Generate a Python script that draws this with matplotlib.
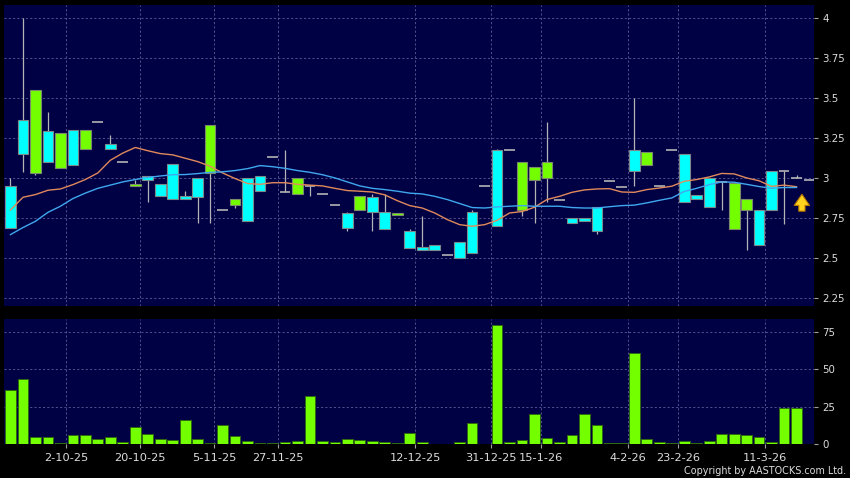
import numpy as np
import matplotlib.pyplot as plt

# daily candles
opens = [2.69, 3.15, 3.55, 3.10, 3.28, 3.08, 3.30, 3.35, 3.18, 3.10,
         2.96, 2.99, 2.89, 2.87, 2.87, 2.88, 3.33, 2.80, 2.87, 2.73,
         2.92, 3.13, 2.91, 3.00, 2.95, 2.90, 2.83, 2.69, 2.89, 2.79,
         2.68, 2.78, 2.56, 2.55, 2.55, 2.52, 2.50, 2.53, 2.95, 2.70,
         3.175, 3.10, 3.07, 3.10, 2.865, 2.72, 2.73, 2.67, 2.98, 2.945,
         3.045, 3.16, 2.95, 3.175, 2.85, 2.87, 2.82, 2.975, 2.97, 2.87,
         2.58, 2.80, 3.045, 3.00, 2.99]
highs = [3.00, 4.00, 3.55, 3.41, 3.28, 3.30, 3.30, 3.35, 3.27, 3.10,
         2.99, 3.01, 2.96, 3.09, 2.92, 3.00, 3.33, 2.80, 2.87, 3.00,
         3.01, 3.13, 3.175, 3.00, 2.95, 2.90, 2.83, 2.79, 2.89, 2.90,
         2.90, 2.78, 2.68, 2.76, 2.58, 2.52, 2.60, 2.80, 2.95, 3.18,
         3.175, 3.10, 3.07, 3.35, 2.865, 2.75, 2.75, 2.82, 2.98, 2.945,
         3.50, 3.16, 2.95, 3.175, 3.15, 2.895, 3.00, 2.975, 2.97, 2.87,
         2.80, 3.045, 3.045, 3.02, 2.99]
lows = [2.69, 3.04, 3.02, 3.10, 3.06, 3.08, 3.18, 3.35, 3.18, 3.10,
        2.95, 2.85, 2.89, 2.87, 2.87, 2.72, 2.72, 2.80, 2.81, 2.73,
        2.92, 3.13, 2.91, 2.90, 2.89, 2.90, 2.83, 2.67, 2.80, 2.67,
        2.68, 2.77, 2.56, 2.55, 2.55, 2.52, 2.50, 2.53, 2.95, 2.70,
        3.175, 2.76, 2.72, 2.85, 2.865, 2.72, 2.73, 2.65, 2.98, 2.945,
        2.95, 3.08, 2.95, 3.175, 2.85, 2.87, 2.82, 2.80, 2.68, 2.55,
        2.58, 2.80, 2.71, 3.00, 2.99]
closes = [2.95, 3.36, 3.03, 3.29, 3.06, 3.30, 3.18, 3.35, 3.21, 3.10,
          2.95, 3.01, 2.96, 3.09, 2.89, 3.00, 3.03, 2.80, 2.83, 3.00,
          3.01, 3.13, 2.91, 2.90, 2.95, 2.90, 2.83, 2.78, 2.80, 2.88,
          2.79, 2.77, 2.67, 2.57, 2.58, 2.52, 2.60, 2.79, 2.95, 3.175,
          3.175, 2.80, 2.99, 3.00, 2.865, 2.75, 2.75, 2.82, 2.98, 2.945,
          3.175, 3.08, 2.95, 3.175, 3.15, 2.895, 3.00, 2.975, 2.68, 2.80,
          2.80, 3.045, 3.045, 3.00, 2.99]
volumes = [35.9, 43.3, 4.5, 4.5, 0.4, 5.8, 6.1, 2.9, 4.3, 0.9,
           11.2, 6.3, 3.1, 2.5, 16.2, 2.9, 0.7, 12.6, 5.4, 1.8,
           0.2, 0.2, 0.9, 1.8, 31.9, 1.8, 1.1, 3.1, 2.5, 1.8,
           1.1, 0.2, 7.0, 0.9, 0, 0, 0.9, 13.9, 0, 79.9,
           1.3, 2.5, 19.8, 3.8, 0.9, 6.1, 20.2, 12.6, 0.2, 0.2,
           60.9, 2.9, 1.1, 0.2, 1.8, 0.2, 1.8, 6.5, 6.5, 5.6,
           4.3, 1.1, 23.8, 24.3, 0]
# moving averages as drawn (orange = short, blue = long)
ma_short = [2.80, 2.879, 2.896, 2.923, 2.931, 2.958, 2.99, 3.031, 3.11, 3.155,
            3.19, 3.17, 3.152, 3.144, 3.123, 3.102, 3.073, 3.031, 2.996, 2.965,
            2.96, 2.97, 2.97, 2.96, 2.955, 2.95, 2.935, 2.921, 2.917, 2.912,
            2.894, 2.858, 2.827, 2.812, 2.781, 2.74, 2.708, 2.698, 2.708, 2.735,
            2.781, 2.79, 2.817, 2.865, 2.885, 2.91, 2.925, 2.931, 2.933, 2.912,
            2.91, 2.927, 2.937, 2.948, 2.979, 2.99, 3.006, 3.028, 3.025, 3.0,
            2.982, 2.947, 2.955, 2.945]
ma_long = [2.646, 2.69, 2.729, 2.785, 2.823, 2.871, 2.905, 2.935, 2.955, 2.975,
           2.99, 3.003, 3.012, 3.02, 3.021, 3.027, 3.035, 3.038, 3.046, 3.058,
           3.077, 3.07, 3.06, 3.046, 3.035, 3.02, 3.0, 2.975, 2.95, 2.935,
           2.927, 2.917, 2.905, 2.9, 2.885, 2.865, 2.84, 2.815, 2.812, 2.819,
           2.823, 2.827, 2.823, 2.823, 2.823, 2.815, 2.812, 2.812, 2.82, 2.827,
           2.83, 2.844, 2.86, 2.875, 2.915, 2.935, 2.958, 2.975, 2.973, 2.96,
           2.946, 2.935, 2.94, 2.94]
tick_labels = ['2-10-25', '20-10-25', '5-11-25', '27-11-25', '12-12-25',
               '31-12-25', '15-1-26', '4-2-26', '23-2-26', '11-3-26']
tick_pos = [4.45, 10.4, 16.35, 21.45, 32.45, 38.5, 42.5, 49.5, 53.5, 60.45]

BG = '#000044'
GRID = '#50508c'
TXT = '#dcdcdc'
CYAN = '#00ffff'
GREEN = '#73ff00'

fig = plt.figure(figsize=(8.5, 4.78), dpi=100, facecolor='black')
ax = fig.add_axes([4/850, 172/478, 810/850, 301/478], facecolor=BG)
axv = fig.add_axes([4/850, 34.3/478, 810/850, 124.7/478], facecolor=BG)

x = np.arange(len(closes))
o = np.array(opens)
c = np.array(closes)
up = c > o
dn = c < o
flat = c == o
w = 0.86

ax.vlines(x, lows, highs, color='#b4b4b4', lw=0.9, zorder=2)
ax.bar(x[up], (c - o)[up], bottom=o[up], width=w, color=CYAN,
       edgecolor='#7a8a8a', lw=0.8, zorder=3)
ax.bar(x[dn], (o - c)[dn], bottom=c[dn], width=w, color=GREEN,
       edgecolor='#7a8a6a', lw=0.8, zorder=3)
ax.hlines(c[flat], x[flat] - w/2, x[flat] + w/2, color='#b4b4b4', lw=1.2, zorder=3)

ax.plot(np.arange(len(ma_short)), ma_short, color='#e08a5c', lw=1.0, zorder=4)
ax.plot(np.arange(len(ma_long)), ma_long, color='#3fa8ee', lw=1.0, zorder=4)

# arrow marking the latest price
tip = ma_long[-1] - 0.025
ax.annotate('', xy=(len(ma_long) - 0.57, tip), xytext=(len(ma_long) - 0.57, tip - 0.14),
            arrowprops=dict(arrowstyle='simple,head_length=0.8,head_width=1.1,tail_width=0.45',
                            fc='#ffd21e', ec='#b87800', lw=0.8), zorder=5)

ax.set_xlim(-0.52, 64.4)
ax.set_ylim(2.2, 4.08)
ax.set_yticks([2.25, 2.5, 2.75, 3, 3.25, 3.5, 3.75, 4])
ax.set_yticklabels(['2.25', '2.5', '2.75', '3', '3.25', '3.5', '3.75', '4'])

axv.bar(x, volumes, width=w, color=GREEN, edgecolor='#2f6a10', lw=0.7, zorder=3)
axv.set_xlim(-0.52, 64.4)
axv.set_ylim(0, 84)
axv.set_yticks([0, 25, 50, 75])

for a in (ax, axv):
    for s in a.spines.values():
        s.set_visible(False)
    a.yaxis.tick_right()
    a.tick_params(axis='y', colors='#a0a0a0', labelcolor=TXT, labelsize=7.4,
                  length=3, width=0.8, pad=3)
    a.set_xticks(tick_pos)
    a.grid(True, color=GRID, ls=(0, (2.2, 2.2)), lw=0.7, zorder=1)
    a.set_axisbelow(True)

ax.tick_params(axis='x', length=0, labelbottom=False)
axv.set_xticklabels(tick_labels)
axv.tick_params(axis='x', colors='#a0a0a0', labelcolor=TXT, labelsize=8.2,
                length=3, width=0.8, pad=4)

fig.text(846/850, 1 - 471.5/478, 'Copyright by AASTOCKS.com Ltd.', color=TXT,
         fontsize=6.9, ha='right', va='center')

fig.savefig('out.png', dpi=100, facecolor='black')
